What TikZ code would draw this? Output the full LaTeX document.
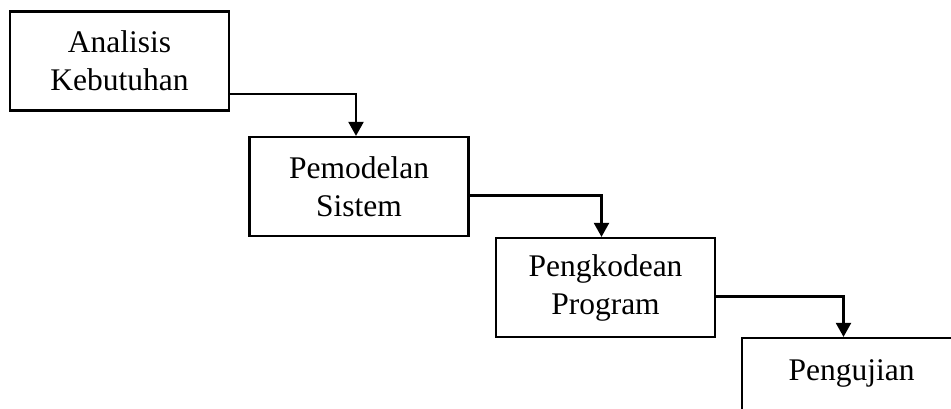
\documentclass[tikz,border=0pt]{standalone}
\usepackage{fontspec}
\setmainfont{Liberation Serif}
\usetikzlibrary{arrows.meta}

\begin{document}
\begin{tikzpicture}[x=1pt,y=-1pt,line width=2.2pt,>={Triangle[length=14pt,width=15pt]},
box/.style={draw,minimum width=219pt,minimum height=99pt,align=center,font=\fontsize{31.5}{38}\selectfont}]
\useasboundingbox (0,0) rectangle (951,409);
\clip (0,0) rectangle (951,409);
\node[box] (analisis) at (119.5,61) {Analisis\\Kebutuhan};
\node[box] (pemodelan) at (359,186.5) {Pemodelan\\Sistem};
\node[box] (pengkodean) at (605.5,287.5) {Pengkodean\\Program};
\node[box,text height=24pt,text depth=39pt] (pengujian) at (851.5,387.5) {Pengujian};
\draw[->] ([yshift=-33pt]analisis.east) -| ([xshift=-3pt]pemodelan.north);
\draw[->] ([yshift=-9pt]pemodelan.east) -| ([xshift=-4pt]pengkodean.north);
\draw[->] ([yshift=-9pt]pengkodean.east) -| ([xshift=-8pt]pengujian.north);
\end{tikzpicture}
\end{document}
